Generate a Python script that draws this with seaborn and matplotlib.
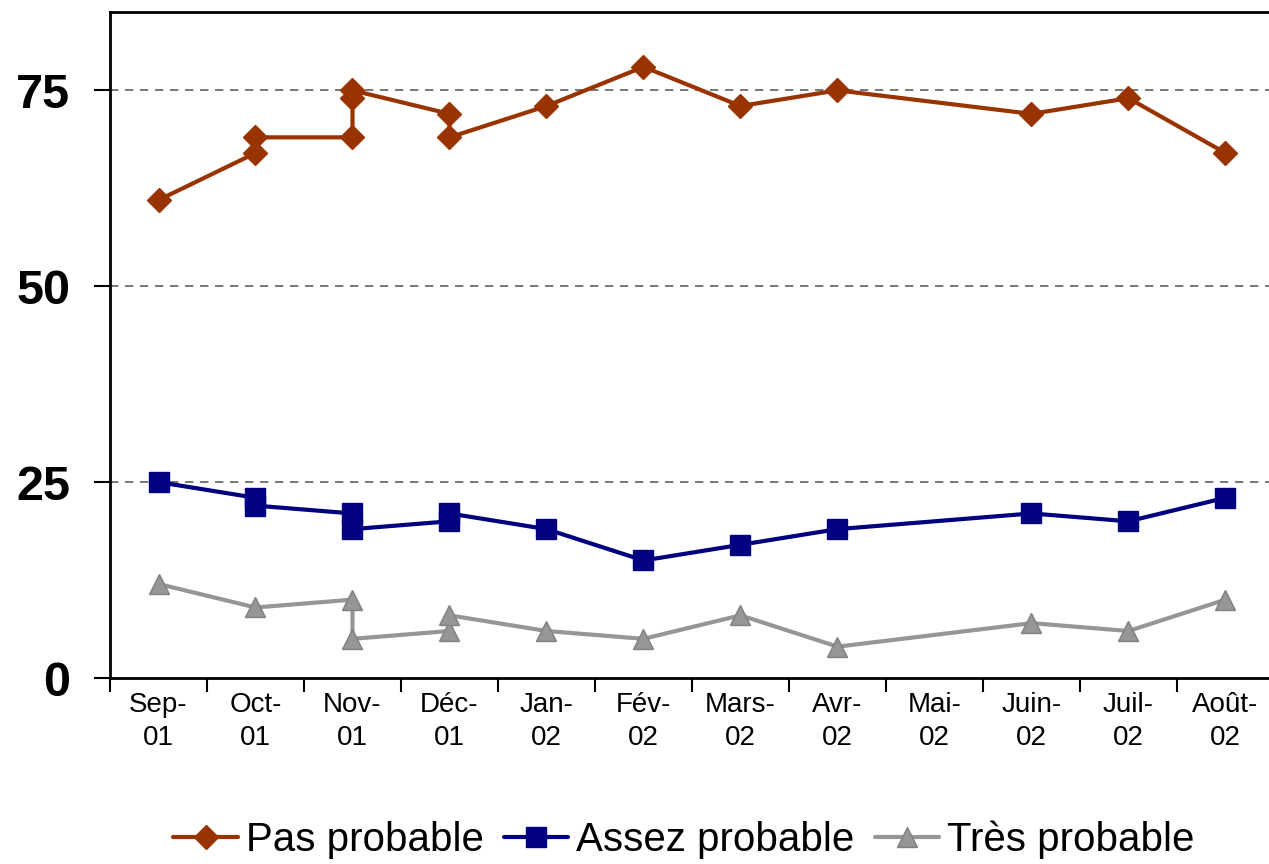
import matplotlib
matplotlib.use("Agg")
import matplotlib.pyplot as plt
import seaborn as sns
import pandas as pd
from matplotlib.ticker import FixedLocator

months = ["Sep-\n01", "Oct-\n01", "Nov-\n01", "Déc-\n01", "Jan-\n02", "Fév-\n02",
          "Mars-\n02", "Avr-\n02", "Mai-\n02", "Juin-\n02", "Juil-\n02", "Août-\n02"]

# survey points in time order (month index of each survey)
pas_month = [0, 1, 1, 2, 2, 2, 3, 3, 4, 5, 6, 7, 9, 10, 11]
pas_vals = [61, 67, 69, 69, 74, 75, 72, 69, 73, 78, 73, 75, 72, 74, 67]

assez_month = [0, 1, 1, 2, 2, 3, 3, 4, 5, 6, 7, 9, 10, 11]
assez_vals = [25, 23, 22, 21, 19, 20, 21, 19, 15, 17, 19, 21, 20, 23]

tres_month = [0, 1, 2, 2, 3, 3, 4, 5, 6, 7, 9, 10, 11]
tres_vals = [12, 9, 10, 5, 6, 8, 6, 5, 8, 4, 7, 6, 10]

series_names = ["Pas probable", "Assez probable", "Très probable"]
y_ticks = [0, 25, 50, 75]

rows = []
for name, ms, vs in zip(series_names, [pas_month, assez_month, tres_month],
                        [pas_vals, assez_vals, tres_vals]):
    for i, (m, v) in enumerate(zip(ms, vs)):
        rows.append({"series": name, "month": m, "value": v, "order": i})
df = pd.DataFrame(rows)

sns.set_theme(style="white")
plt.rcParams['font.family'] = ['Liberation Sans', 'DejaVu Sans']
plt.rcParams['text.color'] = 'black'
plt.rcParams['xtick.color'] = 'black'
plt.rcParams['ytick.color'] = 'black'
plt.rcParams['axes.labelcolor'] = 'black'

fig = plt.figure(figsize=(12.69, 8.64), dpi=100)
ax = fig.add_axes([110/1269, 1 - 678/864, (1274 - 110)/1269, (678 - 12)/864])

colors = {"Pas probable": "#993300", "Assez probable": "#000080", "Très probable": "#969696"}
markers = {"Pas probable": "D", "Assez probable": "s", "Très probable": "^"}
msizes = {"Pas probable": 12, "Assez probable": 14, "Très probable": 15}
medges = {"Pas probable": "#993300", "Assez probable": "#000080", "Très probable": "#808080"}

handles = []
for name in series_names:
    sub = df[df.series == name]
    sns.lineplot(data=sub, x="month", y="value", sort=False, estimator=None,
                 color=colors[name], linewidth=3, ax=ax, legend=False,
                 marker=markers[name], markersize=msizes[name],
                 markeredgecolor=medges[name], markeredgewidth=1)
    h, = ax.plot([], [], color=colors[name], linewidth=3, marker=markers[name],
                 markersize=msizes[name], markeredgecolor=medges[name],
                 markeredgewidth=1, label=name)
    handles.append(h)

ax.set_xlim(-0.5, 11.5)
ax.set_ylim(0, 85)
ax.set_xlabel("")
ax.set_ylabel("")

ax.set_xticks(range(len(months)))
ax.set_xticklabels(months, fontsize=20, linespacing=1.35, color="black")
ax.xaxis.set_minor_locator(FixedLocator([i - 0.5 for i in range(len(months) + 1)]))
ax.tick_params(axis="x", which="major", length=0, pad=10)
ax.tick_params(axis="x", which="minor", length=10, width=1.5, color="black",
               direction="out", bottom=True)

ax.set_yticks(y_ticks)
ax.set_yticklabels([str(t) for t in y_ticks], fontsize=35, fontweight="bold", color="black")
ax.tick_params(axis="y", length=11.5, width=1.5, color="black", direction="out",
               left=True, pad=17)

for t in y_ticks[1:]:
    ax.axhline(t, color="#606060", linestyle=(0, (5, 4)), linewidth=1.2, zorder=0)

for s in ["left", "bottom", "top", "right"]:
    ax.spines[s].set_visible(True)
    ax.spines[s].set_color("black")
    ax.spines[s].set_linewidth(2)

leg = fig.legend(handles=handles, labels=series_names, loc="center",
                 bbox_to_anchor=(0.539, 1 - 840/864), ncol=3, frameon=False,
                 fontsize=29, handlelength=1.6, handletextpad=0.2, columnspacing=0.5)
for t in leg.get_texts():
    t.set_color("black")

fig.savefig("out.png", dpi=100)
